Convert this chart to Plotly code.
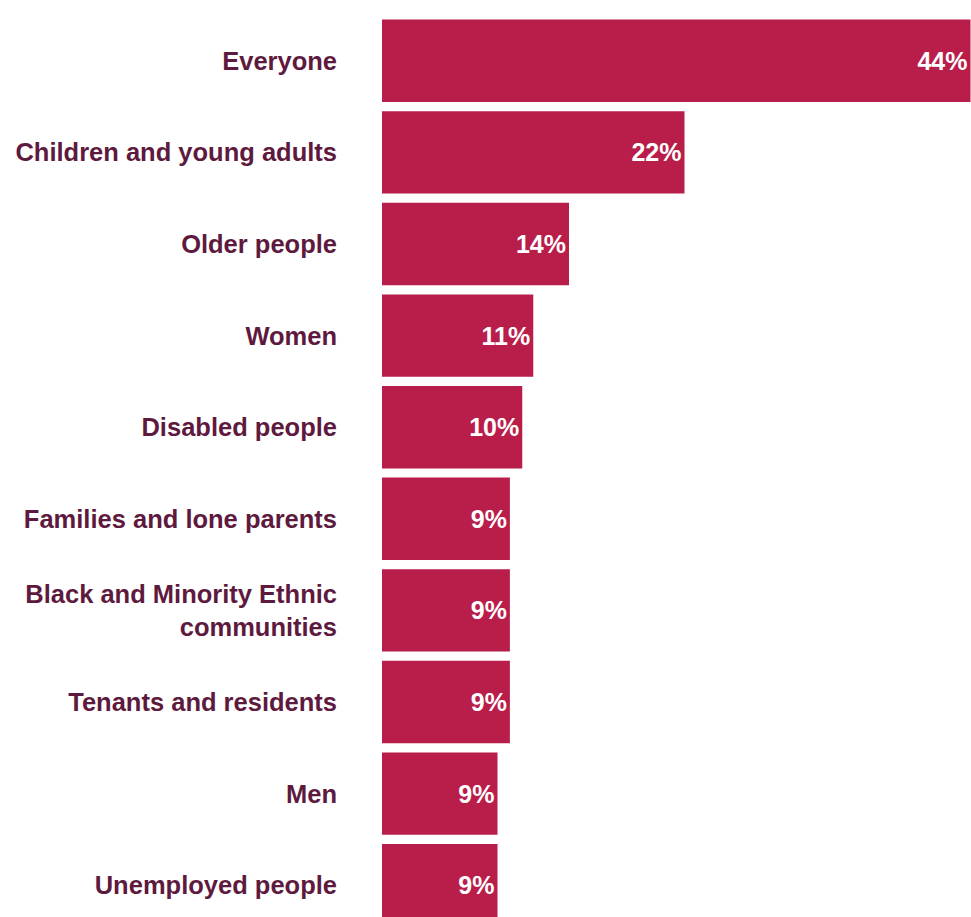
import plotly.graph_objects as go

categories = [
    "Everyone",
    "Children and young adults",
    "Older people",
    "Women",
    "Disabled people",
    "Families and lone parents",
    "Black and Minority Ethnic<br>communities",
    "Tenants and residents",
    "Men",
    "Unemployed people",
]
values = [42.8, 22.0, 13.6, 11.0, 10.2, 9.3, 9.3, 9.3, 8.4, 8.4]
labels = ["44%", "22%", "14%", "11%", "10%", "9%", "9%", "9%", "9%", "9%"]

BAR = "#B91D4A"
TXT = "#5E1A3E"
FONT = "Liberation Sans, Arial, sans-serif"

fig = go.Figure(go.Bar(
    y=categories,
    x=values,
    orientation="h",
    marker=dict(color=BAR, line=dict(width=0)),
    text=labels,
    textposition="inside",
    insidetextanchor="end",
    textangle=0,
    textfont=dict(family=FONT, size=25, color="white", weight="bold"),
    cliponaxis=True,
))

W, H = 971, 917
L, T = 382, 15
px_per_unit = 13.75
slot = 91.6

fig.update_layout(
    width=W, height=H,
    margin=dict(l=L, r=0, t=T, b=0, pad=0),
    paper_bgcolor="white",
    plot_bgcolor="white",
    bargap=0.1,
    showlegend=False,
    uniformtext=dict(mode=False),
)
fig.update_xaxes(
    range=[0, (W - L) / px_per_unit],
    visible=False,
    fixedrange=True,
)
fig.update_yaxes(
    categoryorder="array",
    categoryarray=categories,
    range=[-0.5 + (H - T) / slot, -0.5],
    showgrid=False,
    showline=False,
    zeroline=False,
    ticks="",
    ticklabelstandoff=44,
    tickfont=dict(family=FONT, size=25.5, color=TXT, weight="bold"),
)

fig.write_html("out.html")
